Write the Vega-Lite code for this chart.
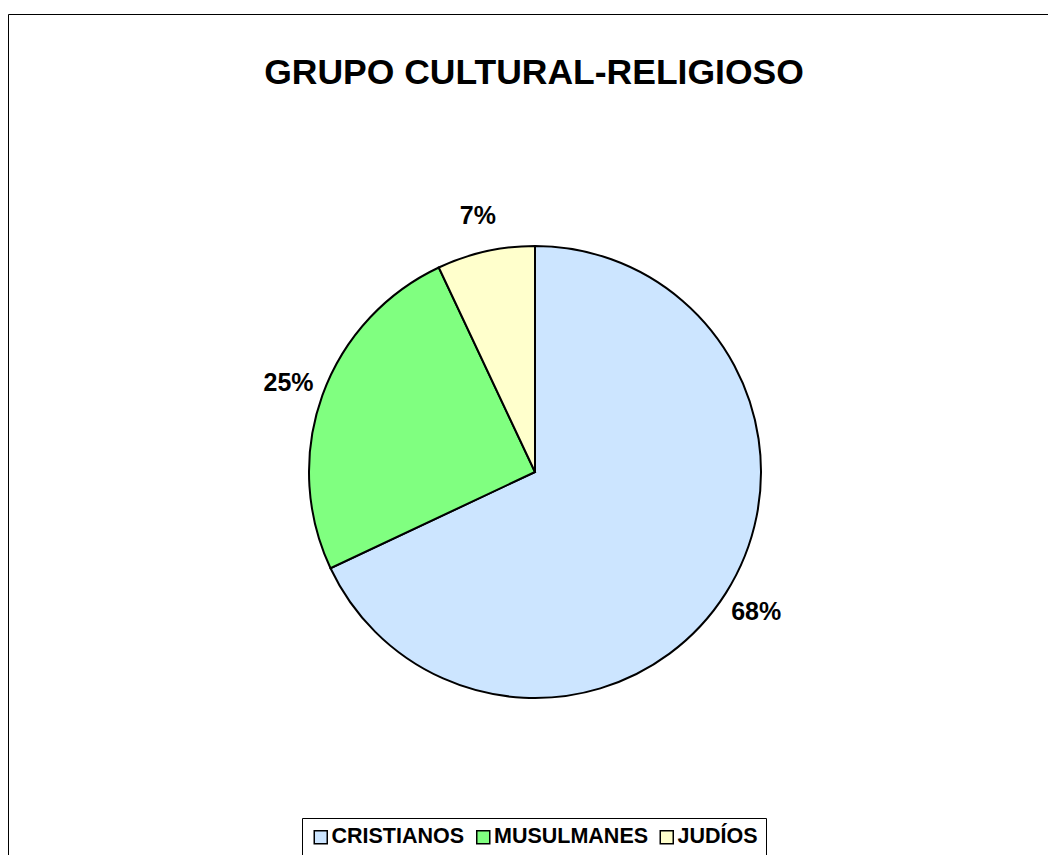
{
  "$schema": "https://vega.github.io/schema/vega-lite/v6.json",
  "autosize": {"type": "none"},
  "width": 1040,
  "height": 841,
  "padding": {"left": 8, "top": 14, "right": 0, "bottom": 0},
  "background": "white",
  "view": {"stroke": "black", "strokeWidth": 1, "fill": "white"},
  "title": {
    "text": "GRUPO CULTURAL-RELIGIOSO",
    "font": "Liberation Sans",
    "fontWeight": "bold",
    "fontSize": 35.5,
    "color": "black",
    "anchor": "middle",
    "frame": "group",
    "baseline": "alphabetic",
    "offset": 0,
    "dy": 105,
    "dx": 6
  },
  "data": {
    "values": [
      {"grupo": "CRISTIANOS", "value": 0.68, "rank": 1},
      {"grupo": "MUSULMANES", "value": 0.25, "rank": 2},
      {"grupo": "JUDÍOS", "value": 0.07, "rank": 3}
    ]
  },
  "encoding": {
    "theta": {"field": "value", "type": "quantitative", "stack": true},
    "order": {"field": "rank", "type": "quantitative"}
  },
  "layer": [
    {
      "mark": {
        "type": "arc",
        "outerRadius": 226,
        "stroke": "black",
        "strokeWidth": 2,
        "x": {"expr": "width/2 + 7"},
        "y": {"expr": "height/2 + 37.5"}
      },
      "encoding": {
        "color": {
          "field": "grupo",
          "type": "nominal",
          "sort": ["CRISTIANOS", "MUSULMANES", "JUDÍOS"],
          "scale": {
            "domain": ["CRISTIANOS", "MUSULMANES", "JUDÍOS"],
            "range": ["#CCE5FF", "#80FF80", "#FFFFCC"]
          },
          "legend": {
            "title": null,
            "orient": "none",
            "legendX": 294,
            "legendY": 804,
            "direction": "horizontal",
            "strokeColor": "black",
            "padding": 8,
            "symbolType": "square",
            "symbolSize": 169,
            "symbolStrokeColor": "black",
            "symbolStrokeWidth": 1.5,
            "symbolOpacity": 1,
            "labelFont": "Liberation Sans",
            "labelFontWeight": "bold",
            "labelFontSize": 21.5,
            "labelColor": "black",
            "labelOffset": 0,
            "columnPadding": 7.5,
            "labelLimit": 300
          }
        }
      }
    },
    {
      "mark": {
        "type": "text",
        "radius": 262,
        "font": "Liberation Sans",
        "fontWeight": "bold",
        "fontSize": 25,
        "color": "black",
        "x": {"expr": "width/2 + 7"},
        "y": {"expr": "height/2 + 37.5"}
      },
      "encoding": {
        "text": {"field": "value", "type": "quantitative", "format": ".0%"}
      }
    }
  ]
}
